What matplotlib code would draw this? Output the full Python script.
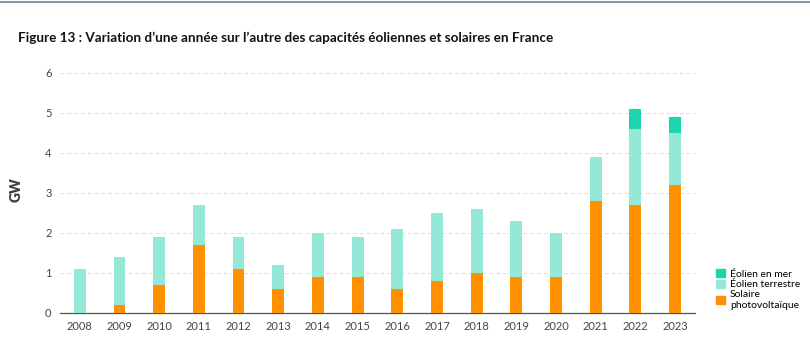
import numpy as np
import matplotlib.pyplot as plt
from matplotlib.patches import Patch

years = [str(y) for y in range(2008, 2024)]
solaire = [0, 0.2, 0.7, 1.7, 1.1, 0.6, 0.9, 0.9, 0.6, 0.8, 1.0, 0.9, 0.9, 2.8, 2.7, 3.2]
eolien_terre = [1.1, 1.2, 1.2, 1.0, 0.8, 0.6, 1.1, 1.0, 1.5, 1.7, 1.6, 1.4, 1.1, 1.1, 1.9, 1.3]
eolien_mer = [0, 0, 0, 0, 0, 0, 0, 0, 0, 0, 0, 0, 0, 0, 0.5, 0.4]

c_sol = '#ff9100'
c_terre = '#94e8d6'
c_mer = '#1ed3ae'

plt.rcParams['font.family'] = ['Lato', 'DejaVu Sans']

fig = plt.figure(figsize=(8.1, 3.54), dpi=100)
ax = fig.add_axes([0.074, 0.116, 0.784, 0.678])

x = np.arange(len(years))
s = np.array(solaire)
t = np.array(eolien_terre)
m = np.array(eolien_mer)
w = 0.3
ax.bar(x, s, w, color=c_sol, zorder=3)
ax.bar(x, t, w, bottom=s, color=c_terre, zorder=3)
ax.bar(x, m, w, bottom=s + t, color=c_mer, zorder=3)

ax.set_xlim(-0.5, len(years) - 0.5)
ax.set_ylim(0, 6)
ax.set_yticks(range(7))
ax.set_xticks(x)
ax.set_xticklabels(years)
ax.tick_params(axis='both', length=0, labelsize=8, colors='#444444', pad=6)
ax.yaxis.grid(True, linestyle=(0, (4, 3)), color='#dddddd', linewidth=0.7, zorder=0)
for sp in ['top', 'right', 'left']:
    ax.spines[sp].set_visible(False)
ax.spines['bottom'].set_color('#555555')
ax.spines['bottom'].set_linewidth(0.9)

fig.text(0.02, 0.463, 'GW', rotation=90, fontsize=10, fontweight='heavy',
         color='#3a3f4a', ha='center', va='center')
fig.text(0.022, 0.893, "Figure 13 : Variation d\u2019une ann\u00e9e sur l\u2019autre des capacit\u00e9s \u00e9oliennes et solaires en France",
         fontsize=9.7, fontweight='bold', color='#111111', va='center')
fig.add_artist(plt.Line2D([0, 1], [0.995, 0.995], color='#6e8090', linewidth=1.2))

handles = [Patch(color=c_mer, label='\u00c9olien en mer'),
           Patch(color=c_terre, label='\u00c9olien terrestre'),
           Patch(color=c_sol, label='Solaire\nphotovolta\u00efque')]
fig.legend(handles=handles, loc='upper left', bbox_to_anchor=(0.878, 0.255),
           frameon=False, fontsize=7.5, handlelength=0.8, handleheight=0.8,
           handletextpad=0.5, labelspacing=0.1, borderpad=0)

fig.savefig('out.png', dpi=100)
